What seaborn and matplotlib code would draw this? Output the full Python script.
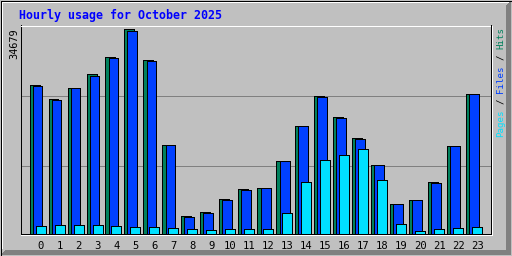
import numpy as np
import matplotlib
matplotlib.use("Agg")
import matplotlib.pyplot as plt
from matplotlib.patches import Polygon, Rectangle
import seaborn as sns

# ---------------- data ----------------
title = "Hourly usage for October 2025"
hours = list(range(24))
hour_labels = [str(h) for h in hours]
hits = [25160, 22900, 24650, 27030, 29920, 34679, 29410, 15080, 2890, 3570,
        5780, 7480, 7650, 12240, 18190, 23290, 19720, 16150, 11560, 4930,
        5610, 8670, 14790, 23630]
files = [24990, 22730, 24650, 26690, 29750, 34500, 29300, 15080, 2720, 3400,
         5610, 7310, 7650, 12240, 18190, 23120, 19550, 15980, 11560, 4930,
         5610, 8500, 14790, 23630]
pages = [1190, 1360, 1360, 1360, 1190, 1020, 1020, 850, 680, 510,
         680, 680, 680, 3400, 8670, 12410, 13370, 14280, 9010, 1530,
         340, 680, 850, 1020]
legend_parts = ["Pages", "/", "Files", "/", "Hits"]

# ---------------- style ----------------
BG = "#C0C0C0"
HITS_C = "#00805C"
FILES_C = "#0040FF"
PAGES_C = "#00E0FF"
GRID_C = "#808080"
DARK = "#808080"
MONO = "DejaVu Sans Mono"
plt.rcParams["font.family"] = MONO

W, H = 512, 256
PX = 19.0                      # pixels per hour slot
fig = plt.figure(figsize=(W / 100, H / 100), dpi=100, facecolor=BG)

# background / frame layer in pixel coordinates (y down)
bg = fig.add_axes([0, 0, 1, 1])
bg.set_xlim(0, W)
bg.set_ylim(H, 0)
bg.axis("off")
bg.set_zorder(-1)
bg.add_patch(Rectangle((0, 0), W, H, facecolor=BG, edgecolor="none"))
bg.add_patch(Polygon([(511, 1), (511, 255), (1, 255), (6, 250), (506, 250), (506, 6)],
                     closed=True, facecolor=DARK, edgecolor="none", antialiased=False))
bg.add_patch(Polygon([(1, 1), (510, 1), (508, 3), (3, 3), (3, 248), (1, 250)],
                     closed=True, facecolor="white", edgecolor="none", antialiased=False))
bg.add_patch(Rectangle((0.5, 0.5), 511, 255, facecolor="none", edgecolor="black",
                       linewidth=0.72, antialiased=False))
bg.plot([20.5, 491.5], [234.5, 234.5], color="white", lw=0.72, antialiased=False)
bg.plot([491.5, 491.5], [25.5, 234.5], color="white", lw=0.72, antialiased=False)

bg.text(19, 19.5, title, ha="left", va="baseline", color="#0000FF",
        fontsize=8.4, fontweight="bold", family=MONO)
bg.text(14.5, 28, str(max(hits)), rotation=90, ha="center", va="top",
        color="black", fontsize=7.4, family=MONO)

# right-side legend, multi coloured, rotated
leg_size = 6.6
adv = 0.602 * leg_size * 100 / 72
leg_colors = [PAGES_C, "black", FILES_C, "black", HITS_C]
pos = 0
for part, col in zip(legend_parts, leg_colors):
    centre = 137 - (pos + len(part) / 2) * adv
    bg.text(501, centre, part, rotation=90, ha="center", va="center",
            color=col, fontsize=leg_size, family=MONO)
    pos += len(part) + 1

# ---------------- main plot ----------------
ax = fig.add_axes([20.5 / W, 22.5 / H, 470 / W, 208 / H])
ax.set_facecolor(BG)

hrs = np.array(hours, dtype=float)
bar_w = 10 / PX
common = dict(native_scale=True, width=bar_w, saturation=1, edgecolor="black",
              linewidth=0.72, errorbar=None, orient="x", ax=ax, antialiased=False)
sns.barplot(x=hrs - 6 / PX, y=hits, color=HITS_C, **common)
sns.barplot(x=hrs - 3 / PX, y=files, color=FILES_C, **common)
sns.barplot(x=hrs, y=pages, color=PAGES_C, **common)

ymax = max(hits) * 208 / 204
ax.set_ylim(0, ymax)
ax.set_xlim(-20 / PX, 450 / PX)
for frac in (68 / 208, 138 / 208):
    ax.axhline(frac * ymax, color=GRID_C, lw=0.72, zorder=0.5, antialiased=False)
ax.set_axisbelow(True)

ax.set_yticks([])
ax.set_xticks(hours)
ax.set_xticklabels(hour_labels, fontsize=7.6, family=MONO, color="black")
ax.tick_params(axis="x", length=0, pad=5.5)
ax.set_xlabel("")
ax.set_ylabel("")
for side in ("left", "bottom", "right"):
    ax.spines[side].set_color("black")
ax.spines["top"].set_color("white")
for s in ax.spines.values():
    s.set_linewidth(0.72)

fig.savefig("out.png", dpi=100, facecolor=BG)
